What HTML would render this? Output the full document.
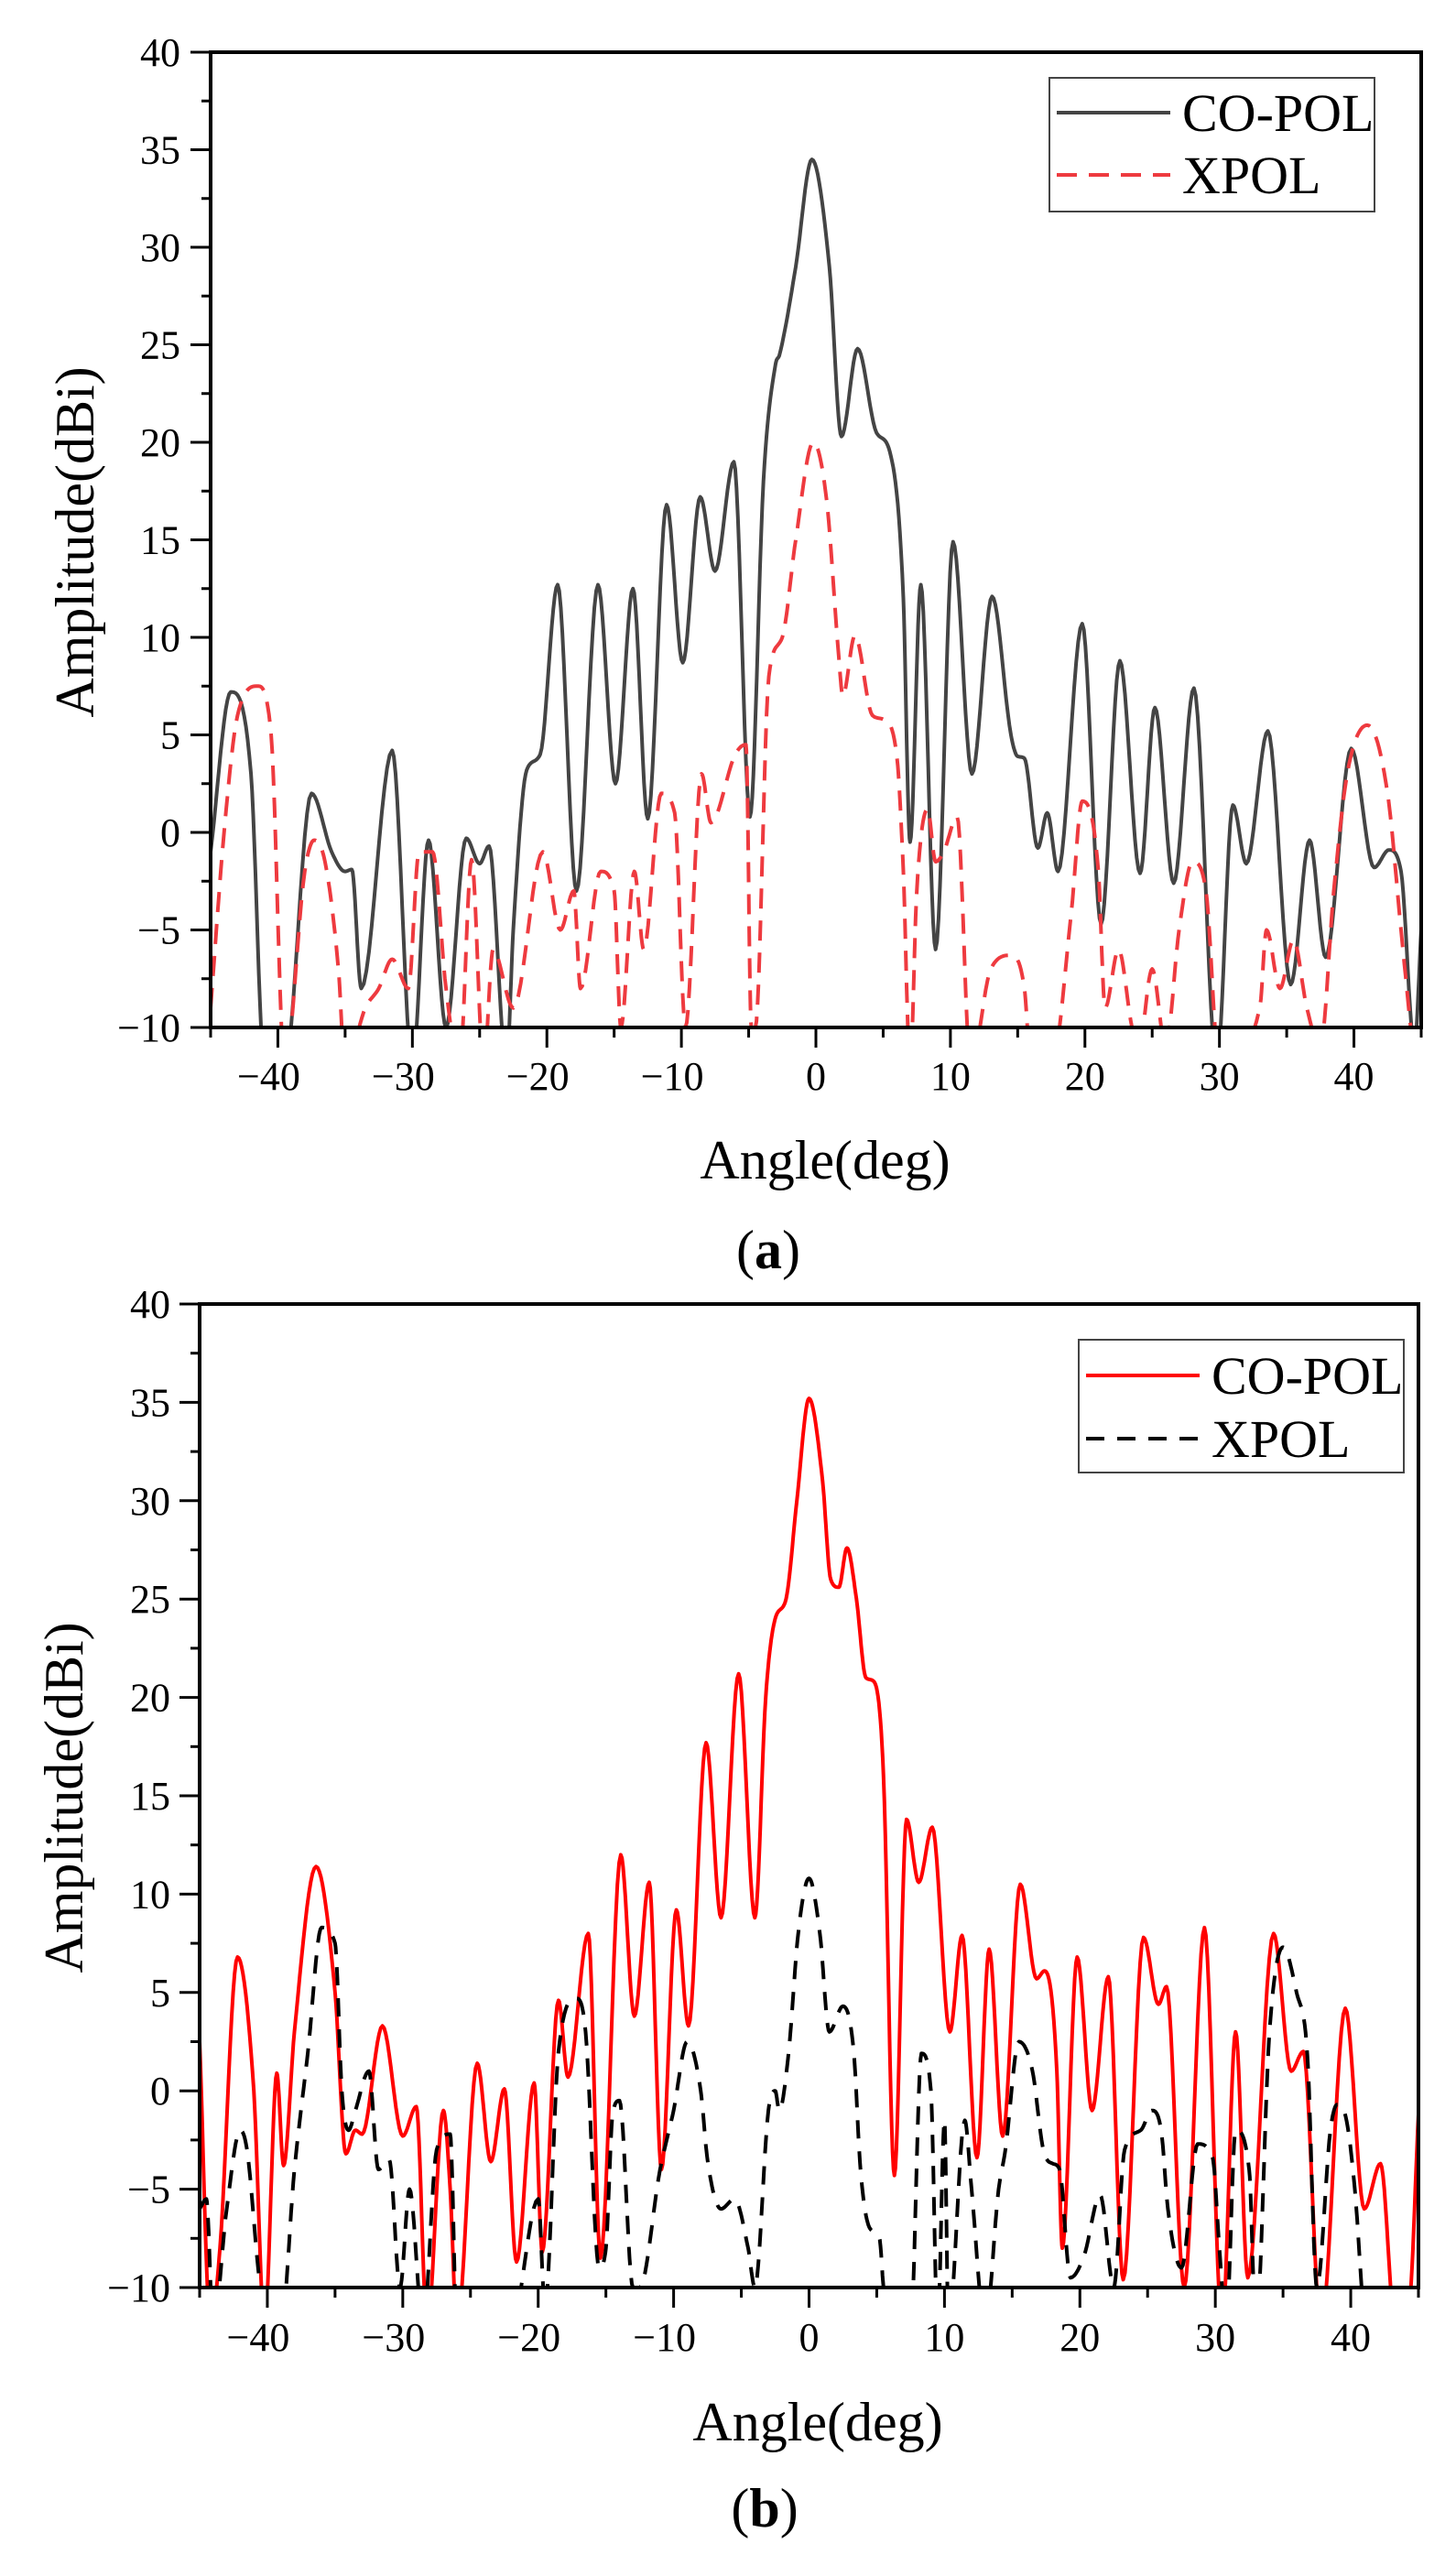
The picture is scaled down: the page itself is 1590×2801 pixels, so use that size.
<!DOCTYPE html>
<html><head><meta charset="utf-8"><style>
body{margin:0;background:#fff;}
svg{display:block;font-family:"Liberation Serif",serif;}
</style></head><body>
<svg id="fig" width="1590" height="2801" viewBox="0 0 1590 2801" xmlns="http://www.w3.org/2000/svg">
<defs>
<clipPath id="clipA"><rect x="230" y="57" width="1322" height="1065"/></clipPath>
<clipPath id="clipB"><rect x="218" y="1424" width="1331" height="1074"/></clipPath>
</defs>
<g id="chartA"></g>
<g id="chartB"></g>
</svg>
<script>
// ---- chart data (angle in deg, amplitude in dBi) ----
const aCoX=[-45,-43.5,-42,-41,-39.5,-37.5,-36,-35,-34.5,-33.8,-31.5,-30,-28.8,-27.5,-26,-25,-24.3,-23,-22.5,-21.5,-20.5,-19.2,-17.8,-16.2,-14.9,-13.6,-12.5,-11.1,-9.9,-8.6,-7.5,-6.1,-4.9,-3.9,-3,-2.7,-1.5,-0.3,1,1.9,3.1,4.5,5.5,6.5,7,7.8,8.9,10.2,11.6,13.1,14.5,15,15.5,16.5,17.2,18,19.8,21.2,22.6,24.1,25.2,26.6,28.1,29.8,31,32,33.6,35.3,36.7,37.9,39.8,41.5,42.6,43.5,44.5,45];
const aCoY=[-1,7.2,3,-12,-12,2,-1,-2,-1.9,-8,4.2,-12,-0.4,-10,-0.3,-1.6,-0.7,-12,-5,3.2,4,12.7,-3,12.7,2.5,12.5,0.7,16.8,8.7,17.2,13.4,19,0.8,18,24,24.5,29,34.5,29,20.3,24.8,20.5,19.5,12,-0.5,12.7,-6,14.9,3,12.1,5,3.9,3.8,-0.8,1,-2,10.7,-4.7,8.8,-2.1,6.4,-2.6,7.4,-12,1.4,-1.6,5.2,-7.8,-0.4,-6.4,4.3,-1.8,-0.9,-2,-11,-5];
const aXpX=[-45,-44,-43,-41.5,-40.5,-39.5,-38,-37.3,-36.5,-35.5,-35,-33.5,-32.5,-31.5,-30.3,-29.5,-28.5,-27.5,-26.5,-25.6,-24.7,-24,-22.5,-20.3,-19,-18,-17.5,-16,-15,-14.5,-13.5,-12.8,-11.5,-10.5,-9.7,-8.5,-7.8,-6,-5.2,-4.8,-4.5,-3.5,-2.5,-1.5,-0.2,0.8,1.7,2,2.9,4.2,5,6,6.5,7,7.5,8.3,8.9,9.5,10.5,11.5,13,14.5,15.5,16,17.5,19,19.8,21,21.5,22.5,23.5,24,25,26,27,28,29,30,33,33.5,34.5,35.5,36.5,37.5,38.5,39.5,41,42.5,43.5,44.5];
const aXpY=[-9,0,6,7.5,5,-12,-2,-0.4,-1.5,-7,-12,-9,-8,-6.5,-8,-1,-1,-8,-12,-1.4,-12,-6,-9,-1,-5,-3,-8,-2,-3,-10,-2,-6,2,1,-10,3,0.5,4,4.5,-10,-10,8,10,15,20,17,9,7,10.1,6,5.8,4,-2,-12,-3,1.2,-1.5,-1,0.8,-12,-7,-6.3,-8,-12,-12,-4,1.6,-2,-9,-6,-10,-11,-7,-11,-5,-1.5,-3,-12,-9,-5,-8,-5.5,-9,-11,-3,3,5.5,2,-5,-12];
const bCoX=[-45,-44.2,-43.5,-42.2,-41,-40.2,-39.3,-38.8,-38,-36.4,-35,-34.2,-33.5,-33,-31.5,-30,-29,-28.2,-27,-26.5,-26,-24.5,-23.5,-22.5,-21.6,-20.3,-19.7,-18.5,-17.8,-16.3,-15.4,-13.9,-12.9,-11.8,-10.9,-9.8,-8.9,-7.6,-6.5,-5.2,-4,-3.2,-2.5,-1.7,-0.9,0,1,1.6,2.2,2.8,3.5,4.2,4.8,5.5,6.3,7.2,8.1,9.1,10.4,11.3,12.4,13.3,14.3,15.6,16.8,17.4,18.3,18.7,19.8,20.9,22.1,23.2,24.7,25.8,26.4,27.7,29.2,30.5,31.5,32.4,34.3,35.6,36.5,37.8,39.6,41,42.2,43.3,44.3,45];
const bCoY=[2.5,-12,-8,6.8,0,-12,0.9,-3.8,3,11.4,5,-3.2,-2,-2.2,3.3,-2.3,-0.8,-12,-1,-5,-12,1.4,-3.6,0.1,-8.7,0.4,-8.2,4.6,0.7,8,-8.5,12,3.8,10.6,-4,9.2,3.3,17.7,8.8,21.2,8.8,20,24,25,30,35.2,31,26,25.6,27.6,25,21,20.8,16,-4.3,13.8,10.6,13.4,3,7.9,-3.4,7.2,-2.3,10.5,5.7,6.1,1,-8,6.8,-1,5.8,-9.6,7.8,4.4,5.3,-10,8.3,-12,3,-9.5,8,1,2,-12,4.2,-6,-3.7,-12,-11,-1.2];
const bXpX=[-45,-44.5,-44,-43,-42,-41.5,-40.5,-39,-38,-37,-36,-35,-34.5,-34,-33.5,-32.5,-31.8,-31,-30.2,-29.5,-28.5,-27.5,-26.5,-26,-24,-22,-20,-19.5,-18.5,-17.2,-16.5,-15.5,-15,-14.5,-14,-13,-12.5,-11,-10,-9,-8,-7.5,-6.5,-5.5,-4.5,-4,-3,-2.5,-2.2,-1.5,-0.8,0,0.8,1.5,2.5,3.3,3.8,4.5,5.2,5.5,6,7.5,8.3,9,9.5,10,10.3,11.5,12,13,14,14.5,15.5,16.5,17.3,18,18.5,19.3,20.3,21.5,22.5,23.3,24.5,25.3,26,26.5,27.5,28.7,29.8,30.3,30.8,31.5,32.5,33,34,35,36,36.8,37.5,38.5,39,39.5,40.3,40.8,41];
const bXpY=[-6,-5.5,-12,-6,-2,-3,-10,-12,-4,2,8.3,7.5,0,-2,-1,1,-4,-3.5,-10,-5,-12,-3,-2.2,-12,-12,-12,-5.5,-11,2,4.7,3,-9,-8,-1.2,-0.5,-10,-10,-4,-1,2.5,0,-3.5,-6,-5.5,-8,-10,-1,0,-1,2,8,10.8,8,3,4.3,2,-4,-7,-7.5,-10,-12,-12,1.9,0,-12,-1.5,-12,-1.5,-5,-12,-5,-3,2.5,1,-3,-3.7,-4,-9.5,-8.4,-5.3,-10,-3,-2,-1,-2,-6,-9,-2.7,-3.4,-8,-12,-2,-4,-12,3,7.3,5,1.8,-10,-2,-0.7,-1,-5,-10,-12];
const yTicks=[40,35,30,25,20,15,10,5,0,-5,-10];
const xTicks=[-40,-30,-20,-10,0,10,20,30,40];
const legendLabels=["CO-POL","XPOL"];

const NS="http://www.w3.org/2000/svg";
function mk(tag,attrs,parent){const e=document.createElementNS(NS,tag);for(const k in attrs)e.setAttribute(k,attrs[k]);parent.appendChild(e);return e;}

// monotone cubic interpolation
function mono(xs,ys,n){
  const m=xs.length,d=[],s=[];
  for(let i=0;i<m-1;i++)d.push((ys[i+1]-ys[i])/(xs[i+1]-xs[i]));
  s[0]=d[0];s[m-1]=d[m-2];
  for(let i=1;i<m-1;i++){s[i]=(d[i-1]*d[i]<=0)?0:(d[i-1]+d[i])/2;}
  for(let i=0;i<m-1;i++){if(d[i]===0){s[i]=0;s[i+1]=0;continue;}const a=s[i]/d[i],b=s[i+1]/d[i],h=a*a+b*b;if(h>9){const t=3/Math.sqrt(h);s[i]=t*a*d[i];s[i+1]=t*b*d[i];}}
  const out=[];
  for(let i=0;i<m-1;i++){const h=xs[i+1]-xs[i];for(let k=0;k<n;k++){const t=k/n,t2=t*t,t3=t2*t;
    const y=(2*t3-3*t2+1)*ys[i]+(t3-2*t2+t)*h*s[i]+(-2*t3+3*t2)*ys[i+1]+(t3-t2)*h*s[i+1];
    out.push([xs[i]+t*h,y]);}}
  out.push([xs[m-1],ys[m-1]]);return out;
}

function drawChart(g,cfg){
  const X=v=>cfg.L+(v+45)/90*(cfg.R-cfg.L);
  const Y=v=>cfg.B-(v+10)/50*(cfg.B-cfg.T);
  // series
  const sg=mk('g',{'clip-path':'url(#'+cfg.clip+')'},g);
  cfg.series.forEach(sr=>{
    const pts=mono(sr.x,sr.y,12);
    const d=pts.map((p,i)=>(i?'L':'M')+X(p[0]).toFixed(1)+' '+Y(p[1]).toFixed(1)).join('');
    const p=mk('path',{d:d,fill:'none',stroke:sr.color,'stroke-width':4,'stroke-linejoin':'round'},sg);
    if(sr.dash)p.setAttribute('stroke-dasharray',sr.dash);
    
    
  });
  // frame
  const fr=mk('rect',{x:cfg.L,y:cfg.T,width:cfg.R-cfg.L,height:cfg.B-cfg.T,fill:'none',stroke:'#000','stroke-width':4},g);
  
  
  // y ticks
  const ya=mk('g',{},g);
  
  
  for(let v=-10;v<=40;v+=2.5){const major=(v%5===0);mk('line',{x1:cfg.L-(major?22:10),x2:cfg.L,y1:Y(v),y2:Y(v),stroke:'#000','stroke-width':3},ya);}
  yTicks.forEach(v=>{const t=mk('text',{x:cfg.ylx,y:Y(v)+15,'font-size':44,'text-anchor':'end',fill:'#000'},ya);t.textContent=(v<0?'\u2212':'')+Math.abs(v);
    
    });
  // x ticks
  const xa=mk('g',{},g);
  
  
  for(let v=-45;v<=45;v+=5){const major=(v%10===0);mk('line',{x1:X(v),x2:X(v),y1:cfg.B,y2:cfg.B+(major?22:11),stroke:'#000','stroke-width':3},xa);}
  xTicks.forEach(v=>{const t=mk('text',{x:X(v)+(v<0?-10:0),y:cfg.xlb,'font-size':44,'text-anchor':'middle',fill:'#000'},xa);t.textContent=(v<0?'\u2212':'')+Math.abs(v);
    
    });
  // titles
  const xt=mk('text',{x:cfg.xtx,y:cfg.xty,'font-size':60,'text-anchor':'middle'},g);xt.textContent='Angle(deg)';
  
  
  const yt=mk('text',{x:0,y:0,'font-size':60,'text-anchor':'middle',transform:'translate('+cfg.ytx+','+cfg.yty+') rotate(-90)'},g);yt.textContent='Amplitude(dBi)';
  
  
  const cap=mk('text',{x:cfg.capx,y:cfg.capy,'font-size':60,'text-anchor':'middle'},g);
  cap.innerHTML='(<tspan font-weight="bold">'+cfg.cap+'</tspan>)';
  
  
  // legend
  const lg=mk('g',{},g);
  
  
  mk('rect',{x:cfg.lx,y:cfg.ly,width:cfg.lw,height:cfg.lh,fill:'#fff',stroke:'#444','stroke-width':2},lg);
  cfg.series.forEach((sr,i)=>{
    const yy=cfg.ly+cfg.row0+i*cfg.rowH;
    const ln=mk('line',{x1:cfg.lx+8,x2:cfg.lx+132,y1:yy,y2:yy,stroke:sr.color,'stroke-width':4},lg);
    if(sr.dash)ln.setAttribute('stroke-dasharray',sr.dash);
    
    
    const t=mk('text',{x:cfg.lx+145,y:yy+20,'font-size':58},lg);t.textContent=legendLabels[i];
    
    
  });
}

drawChart(document.getElementById('chartA'),{L:230,R:1552,T:57,B:1122,clip:'clipA',ylx:197,xlb:1190,xtx:901,xty:1287,ytx:102,yty:592,capx:839,capy:1385,cap:'a',
  lx:1146,ly:85,lw:355,lh:146,row0:38,rowH:68,
  series:[{name:'co-pol-line-a',x:aCoX,y:aCoY,color:'#444444'},{name:'xpol-line-a',x:aXpX,y:aXpY,color:'#ee3a3f',dash:'22 13'}]});
drawChart(document.getElementById('chartB'),{L:218,R:1549,T:1424,B:2498,clip:'clipB',ylx:186,xlb:2567,xtx:893,xty:2665,ytx:90,yty:1963,capx:835,capy:2759,cap:'b',
  lx:1178,ly:1463,lw:355,lh:145,row0:39,rowH:69,
  series:[{name:'co-pol-line-b',x:bCoX,y:bCoY,color:'#ff0000'},{name:'xpol-line-b',x:bXpX,y:bXpY,color:'#000000',dash:'20 14'}]});
</script>
</body></html>
